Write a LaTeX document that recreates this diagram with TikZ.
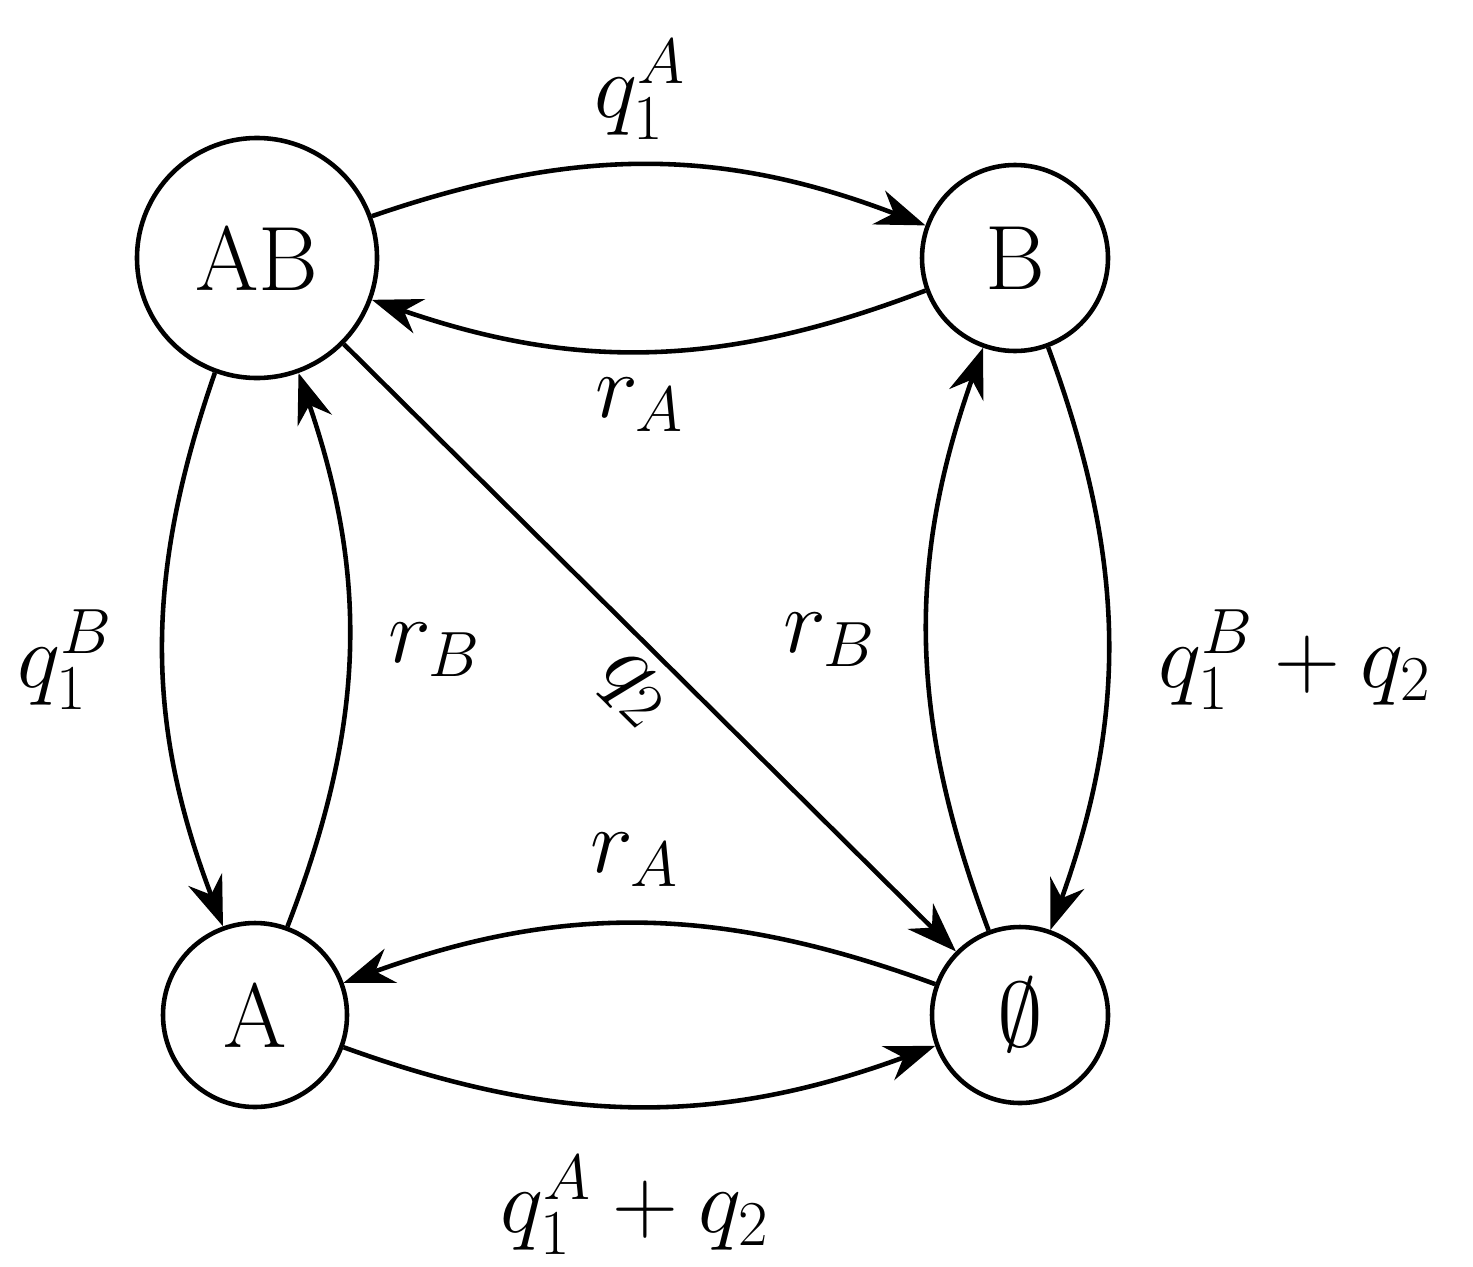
\documentclass[tikz,border=0pt]{standalone}
\usepackage{fix-cm}
\usetikzlibrary{arrows.meta}
\begin{document}
\begin{tikzpicture}[x=1cm,y=1cm,
  every node/.style={font=\fontsize{26}{31}\selectfont},
  st/.style={circle,draw,line width=1.3pt,inner sep=0pt},
  ed/.style={-{Stealth[length=5mm,width=3.6mm]},line width=1.3pt}]
\useasboundingbox (0,0) rectangle (14.73,12.66);
\node[st,minimum size=2.4cm] (AB) at (2.57,10.08) {AB};
\node[st,minimum size=1.86cm] (B) at (10.15,10.08) {B};
\node[st,minimum size=1.84cm] (A) at (2.55,2.51) {A};
\node[st,minimum size=1.76cm] (E) at (10.20,2.51) {$\emptyset$};
\draw[ed] (AB) to[bend left=20] (B);
\draw[ed] (B) to[bend left=20] (AB);
\draw[ed] (AB) to[bend right=20] (A);
\draw[ed] (A) to[bend right=20] (AB);
\draw[ed] (AB) -- node[below,sloped,pos=0.52] {$q_2$} (E);
\draw[ed] (E) to[bend left=20] (B);
\draw[ed] (B) to[bend left=20] (E);
\draw[ed] (E) to[bend right=20] (A);
\draw[ed] (A) to[bend right=20] (E);
\node (l1) at (6.40,11.76) {$q_1^A$};
\node (l2) at (6.40,8.61) {$r_A$};
\node (l3) at (0.65,6.06) {$q_1^B$};
\node (l4) at (4.35,6.16) {$r_B$};
\node (l5) at (8.30,6.26) {$r_B$};
\node (l6) at (12.95,6.06) {$q_1^B+q_2$};
\node (l7) at (6.35,4.06) {$r_A$};
\node (l8) at (6.35,0.61) {$q_1^A+q_2$};
\end{tikzpicture}
\end{document}
